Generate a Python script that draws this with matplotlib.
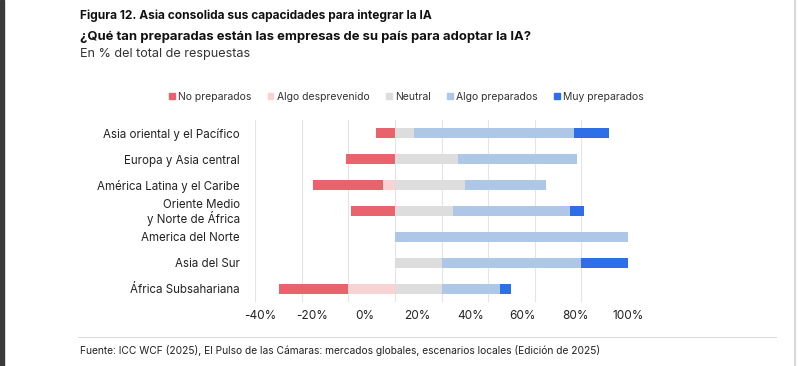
import matplotlib
matplotlib.use('Agg')
import matplotlib.pyplot as plt
import numpy as np
from matplotlib.patches import Patch, Rectangle
from matplotlib.lines import Line2D

plt.rcParams['font.family'] = ['Inter', 'DejaVu Sans']

regiones = ['Asia oriental y el Pacífico', 'Europa y Asia central', 'América Latina y el Caribe',
            'Oriente Medio\ny Norte de África', 'America del Norte', 'Asia del Sur',
            'África Subsahariana']
no_preparados = [8, 21, 30, 19, 0, 0, 30]
algo_desprevenido = [0, 0, 5, 0, 0, 0, 20]
neutral = [8, 27, 30, 25, 0, 20, 20]
algo_preparados = [69, 51, 35, 50, 100, 60, 25]
muy_preparados = [15, 0, 0, 6, 0, 20, 5]

tick_labels = ['-40%', '-20%', '0%', '20%', '40%', '60%', '80%', '100%']

colores = ['#e8636b', '#f8d3d3', '#dddddd', '#afc7e6', '#2e6fe8']
nombres = ['No preparados', 'Algo desprevenido', 'Neutral', 'Algo preparados', 'Muy preparados']

fig = plt.figure(figsize=(8, 3.66), dpi=100)
ax = fig.add_axes([0.319, 0.175, 0.466, 0.497])

y = np.arange(len(regiones))
h = 0.38
nd = np.array(no_preparados)
ad = np.array(algo_desprevenido)
ne = np.array(neutral)
ap = np.array(algo_preparados)
mp = np.array(muy_preparados)

# negativos a la izquierda de cero
ax.barh(y, -ad, height=h, color=colores[1], zorder=3)
ax.barh(y, -nd, left=-ad, height=h, color=colores[0], zorder=3)
# positivos
ax.barh(y, ne, height=h, color=colores[2], zorder=3)
ax.barh(y, ap, left=ne, height=h, color=colores[3], zorder=3)
ax.barh(y, mp, left=ne + ap, height=h, color=colores[4], zorder=3)

ax.set_xlim(-60, 100)
ax.set_ylim(len(regiones) - 0.5, -0.5)
ax.set_yticks(y)
ax.set_yticklabels(regiones, fontsize=8.3, color='#222222', linespacing=1.0)
ax.set_xticks(np.linspace(-58, 100, 8))
ax.set_xticklabels(tick_labels, fontsize=8.5, color='#222222')
ax.set_xticks(np.arange(-60, 101, 20), minor=True)
ax.grid(axis='x', which='minor', color='#e4e4e4', lw=0.8, zorder=0)
ax.tick_params(axis='both', which='both', length=0)
ax.tick_params(axis='y', pad=11)
ax.tick_params(axis='x', pad=6)
for s in ax.spines.values():
    s.set_visible(False)

handles = [Patch(color=c) for c in colores]
fig.legend(handles, nombres, loc='center', bbox_to_anchor=(0.508, 0.735), ncol=5, frameon=False,
           fontsize=7.5, handlelength=0.55, handleheight=0.55, handletextpad=0.3,
           columnspacing=1.6, labelcolor='#333333')

fig.text(0.1, 0.956, 'Figura 12. Asia consolida sus capacidades para integrar la IA',
         fontsize=8.6, fontweight='bold', va='center', color='#111111')
fig.text(0.1, 0.899, '¿Qué tan preparadas están las empresas de su país para adoptar la IA?',
         fontsize=9.4, fontweight='bold', va='center', color='#111111')
fig.text(0.1, 0.852, 'En % del total de respuestas', fontsize=9.1, va='center', color='#333333')

fig.add_artist(Line2D([0.098, 0.97], [0.079, 0.079], color='#dddddd', lw=0.8))
fig.text(0.1, 0.041, 'Fuente: ICC WCF (2025), El Pulso de las Cámaras: mercados globales, escenarios locales (Edición de 2025)',
         fontsize=7.35, va='center', color='#222222')

# bordes de la captura
fig.add_artist(Line2D([0.994, 0.994], [0, 1], color='#d8d8d8', lw=1.5))
fig.add_artist(Rectangle((0, 0), 0.005, 1, color='#3a3a3a', transform=fig.transFigure))

fig.savefig('out.png', dpi=100)
